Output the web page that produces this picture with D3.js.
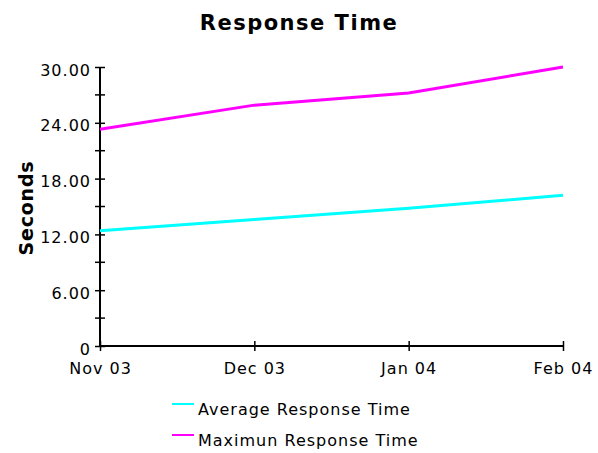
<!DOCTYPE html>
<html><head><meta charset="utf-8">
<script src="https://cdn.jsdelivr.net/npm/d3@7"></script>
<style>body{margin:0;background:#fff}</style>
</head><body><svg id="c" width="598" height="453"></svg>
<script>
const categories = ["Nov 03", "Dec 03", "Jan 04", "Feb 04"];
const avgValues = [12.4, 13.6, 14.8, 16.2];
const maxValues = [23.3, 25.9, 27.2, 30.0];
const seriesNames = ["Average Response Time", "Maximun Response Time"];
const seriesColors = ["#00ffff", "#ff00ff"];
const yTicks = [0, 6, 12, 18, 24, 30];
const yMinor = [3, 9, 15, 21, 27];

const svg = d3.select("#c");
const font = "'DejaVu Sans', Verdana, sans-serif";
const x = d3.scalePoint().domain(categories).range([100, 563]);
const y = d3.scaleLinear().domain([0, 30]).range([346, 67]);

svg.append("text").attr("x", 299).attr("y", 30).attr("text-anchor", "middle")
  .attr("font-family", font).attr("font-weight", "bold").attr("font-size", 21)
  .attr("letter-spacing", 1.5).text("Response Time");
svg.append("text").attr("transform", "translate(33,208) rotate(-90)").attr("text-anchor", "middle")
  .attr("font-family", font).attr("font-weight", "bold").attr("font-size", 19)
  .attr("letter-spacing", 0.8).text("Seconds");

// Y axis
const yAxis = svg.append("g").attr("transform", "translate(100,0)")
  .call(d3.axisLeft(y).tickValues(yTicks).tickSize(5).tickFormat(d => d === 0 ? "0" : d3.format(".2f")(d)));
yAxis.select(".domain").attr("stroke", "#000").attr("stroke-width", 2).attr("d", `M0,${y(30)}V${y(0)}`);
yAxis.selectAll(".tick line").attr("x1", 5).attr("x2", -5).attr("stroke-width", 1.5);
yAxis.selectAll(".tick text").attr("x", -9).attr("dy", "0.5em").attr("font-family", font)
  .attr("font-size", 16).attr("letter-spacing", 1).attr("fill", "#000");
svg.append("g").selectAll("line").data(yMinor).join("line")
  .attr("x1", 95).attr("x2", 105).attr("y1", d => y(d)).attr("y2", d => y(d)).attr("stroke", "#000").attr("stroke-width", 1.5);

// X axis
const xAxis = svg.append("g").attr("transform", `translate(0,${y(0)})`)
  .call(d3.axisBottom(x).tickSize(5).tickSizeOuter(0));
xAxis.select(".domain").attr("stroke", "#000").attr("stroke-width", 2).attr("d", `M${x.range()[0]},0H${x.range()[1]}`);
xAxis.selectAll(".tick line").attr("y1", -5).attr("y2", 5).attr("stroke-width", 1.5);
xAxis.selectAll(".tick text").attr("y", 28).attr("dy", 0).attr("font-family", font)
  .attr("font-size", 16).attr("letter-spacing", 1).attr("fill", "#000");

// Lines
const line = d3.line().x((d, i) => x(categories[i])).y(d => y(d));
[avgValues, maxValues].forEach((vals, i) => {
  svg.append("path").datum(vals).attr("d", line).attr("fill", "none")
    .attr("stroke", seriesColors[i]).attr("stroke-width", 3);
});

// Legend
const lg = svg.append("g");
seriesNames.forEach((n, i) => {
  const yy = 404 + i * 31;
  lg.append("line").attr("x1", 172).attr("x2", 194).attr("y1", yy).attr("y2", yy)
    .attr("stroke", seriesColors[i]).attr("stroke-width", 2);
  lg.append("text").attr("x", 198).attr("y", yy + 11).attr("font-family", font).attr("font-size", 16)
    .attr("letter-spacing", 1).attr("fill", "#000").text(n);
});
</script></body></html>
